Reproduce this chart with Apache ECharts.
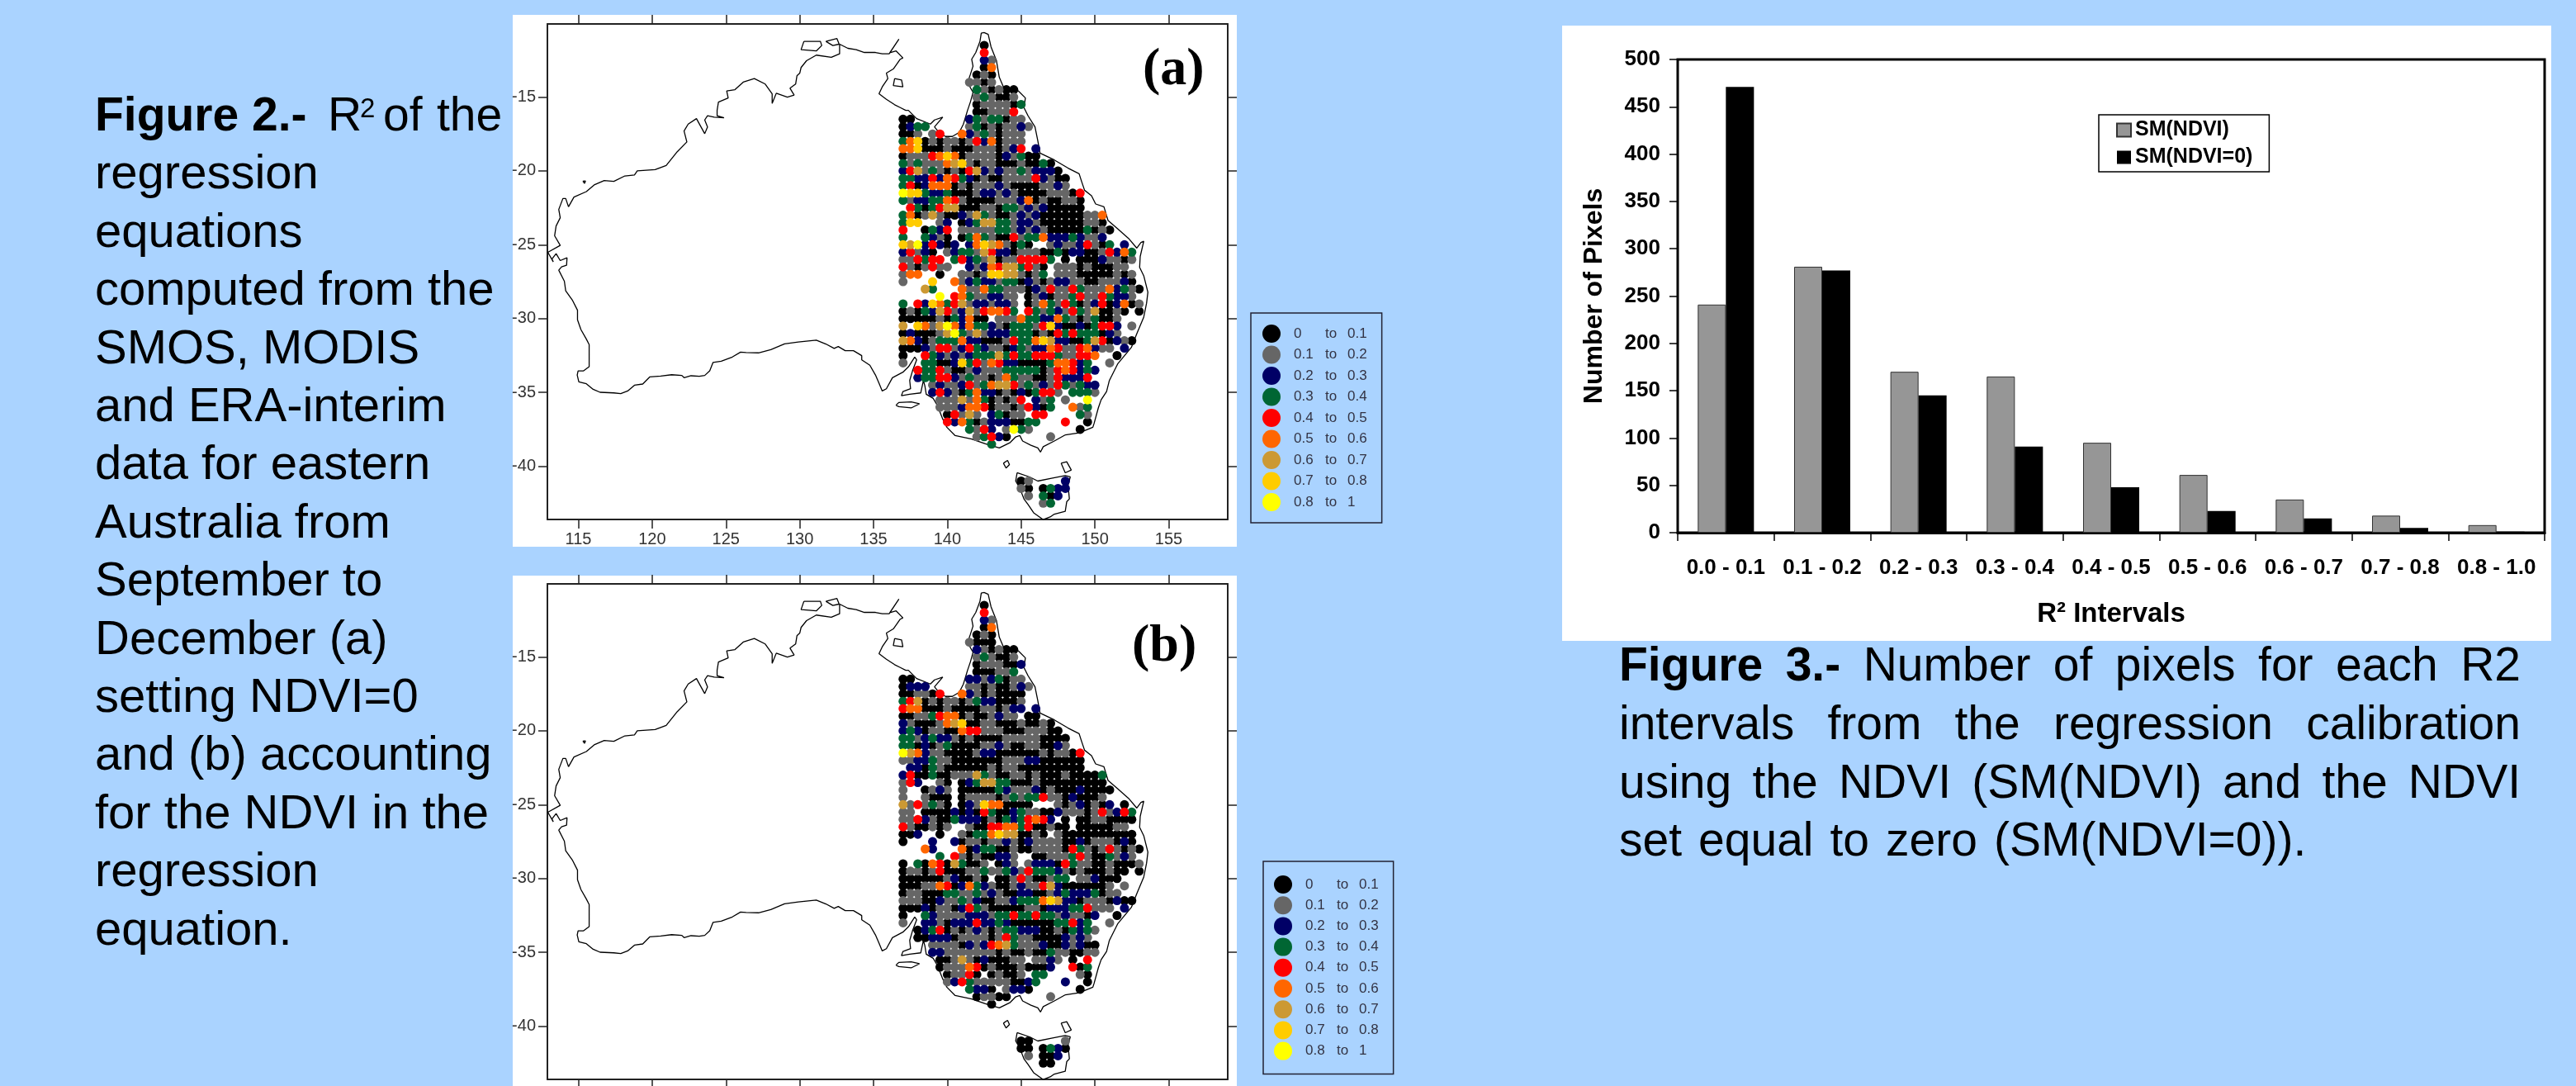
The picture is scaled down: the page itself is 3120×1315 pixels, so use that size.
<!DOCTYPE html>
<html><head><meta charset="utf-8">
<style>html,body{margin:0;padding:0;background:#aad3ff}#c{width:3120px;height:1315px}</style>
<script src="https://cdn.jsdelivr.net/npm/echarts@6/dist/echarts.min.js"></script></head>
<body><div id="c"></div>
<script>
// ---------- bar chart data (Figure 3) ----------
const barCategories = ['0.0 - 0.1','0.1 - 0.2','0.2 - 0.3','0.3 - 0.4','0.4 - 0.5','0.5 - 0.6','0.6 - 0.7','0.7 - 0.8','0.8 - 1.0'];
const smNdvi  = [241,281,170,165,95,61,35,18,8];
const smNdvi0 = [471,277,145,91,48,23,15,5,1];
// ---------- map legend ----------
const classNames  = ['0 to 0.1','0.1 to 0.2','0.2 to 0.3','0.3 to 0.4','0.4 to 0.5','0.5 to 0.6','0.6 to 0.7','0.7 to 0.8','0.8 to 1'];
const classColors = ['#000000','#666666','#000066','#006633','#ff0000','#ff6600','#cc9933','#ffcc00','#ffff00'];
const lonTicks = [115,120,125,130,135,140,145,150,155];
const latTicks = [-40,-35,-30,-25,-20,-15];
// ---------- R2 class per 0.5 degree cell: [lat, first column (0 = 137E), classes ('.' = none)] ----------
const mapARows = [
[-11.5,11,"0"],[-12,11,"4"],[-12.5,11,"21"],[-13,11,"05"],[-13.5,10,"010"],[-14,9,"1101"],
[-14.5,10,"310100"],[-15,10,"131001"],[-15.5,10,"0111103"],[-16,10,"001114"],
[-16.5,0,"00.......23133011"],[-17,0,"0233.....130101121"],[-17.5,0,"001.14..521310111"],
[-18,0,"35701011014250111"],[-18.5,0,"55700010001110124.2"],[-19,0,"0111457501111021300"],
[-19.5,0,"313111567101100010030"],[-20,0,"2461310104621211312220"],[-20.5,0,"33224254320100111142100"],
[-21,0,"34025550101112100001121"],[-21.5,0,"8773223000122121000011104"],[-22,0,"3122335410000111250100110"],
[-22.5,0,".430346600011033121200000"],[-23,0,"3501610021631001212000000115"],[-23.5,0,"377..12.02366331221000000110"],
[-24,0,"4..0324.111113312121000003010"],[-24.5,0,"3..3210.03531004133522232112"],[-25,0,"76824202.257651030..121124103.2"],
[-25.5,0,"24120.12331642201110030220014253"],[-26,0,"114344.34231601144443.0.00021101"],[-26.5,0,"4101411..21254663410.1110100011"],
[-27,0,"155..0..110177661013.11100000101"],[-27.5,0,"1...7..5123221330210122110011120"],[-28,3,"63...5115331110214114311152310"],
[-28.5,5,"8.453112211.012011341143221"],[-29,0,"3.42753461221221.0153143012402501"],[-29.5,0,"0103264126145543.43132143160010.0"],
[-30,0,"000001032500.11153322531013001"],[-30.5,0,"6.7516852533210333147200203442.1"],[-31,0,"020001683161222333010434333021"],
[-31.5,0,"65201333522000143357622003640210"],[-32,0,"00021441243211023122541145211.2"],[-32.5,0,"0..432121233363433444311445..0"],
[-33,0,"1..33002734154220000355423..1"],[-33.5,2,"4334100121113333301454232"],[-34,2,"233442131101531100142224"],
[-34.5,4,"12112413566413121431322"],[-35,4,"242103522010203441.3331"],[-35.5,5,"111615301014.213.1..8"],
[-36,5,"1112554011014203..513"],[-36.5,6,"04161.23011.44....31"],[-37,6,"4253012220033...4..0"],
[-37.5,9,"3142.1831......0"],[-38,10,"13420.....1"],[-38.5,12,"3"],
[-41,16,"01....2"],[-41.5,16,"10.0322"],[-42,17,"1.302"],[-42.5,19,"13"]
];
const mapBRows = [
[-11.5,11,"0"],[-12,11,"4"],[-12.5,11,"21"],[-13,11,"05"],[-13.5,10,"010"],[-14,9,"1000"],
[-14.5,10,"210100"],[-15,10,"131001"],[-15.5,10,"0111002"],[-16,10,"000113"],
[-16.5,0,"00.......22123011"],[-17,0,"0222.....110100121"],[-17.5,0,"001104..521010000"],
[-18,0,"34601011013220001"],[-18.5,0,"45500010000110122.2"],[-19,0,"0011345501001211.00"],
[-19.5,0,"210001567001100010010"],[-20,0,"2320110054411100011100"],[-20.5,0,"33123221010000111110000"],
[-21,0,"33020130000112100110021"],[-21.5,0,"8652110000122000000101104"],[-22,0,"1122311000000011122000000"],
[-22.5,0,".220310000001011000000000"],[-23,0,"2400300111631001101000100003"],[-23.5,0,"142..10.02366330001000000000"],
[-24,0,"1..0121.000003211120100020000"],[-24.5,0,"1..1000.01111013133411020001"],[-25,0,"6141310.0217550000...10120102.0"],
[-25.5,0,"11.00002020430023110021110141243"],[-26,0,"114210032220103234542.0.00110000"],[-26.5,0,"4100101..10044553400100.0000011"],
[-27,0,"002..0..103357660010.10000000000"],[-27.5,0,"0...2..2011011210211110020111020"],[-28,3,"52...5023300100111104310141010"],
[-28.5,5,"3.410100221..00111341003121"],[-29,0,"0.3054063001.021.1222043110010001"],[-29.5,0,"0110140001131132143332101000100.0"],
[-30,0,"000000120010.0014100133.112000"],[-30.5,0,"00011540253210012114620000001.1"],[-31,0,"011000331131210022001232223011"],
[-31.5,0,"11100211312001123335762201110200"],[-32,0,"00020110243100000110222334111.2"],[-32.5,0,"0..321111222133433433121102..0"],
[-33,0,"1..22102224223200000033423..1"],[-33.5,2,"0234010121013322200103231"],[-34,2,"002220111101431100002121"],
[-34.5,4,"11110212456311120021200"],[-35,4,"22111111101001003110011"],[-35.5,5,"001610200011.1121.0.4"],
[-36,5,"0111540100010002..403"],[-36.5,6,"01140.01001.33....10"],[-37,6,"1243111110023...2..0"],
[-37.5,9,"3220.1220......0"],[-38,10,"01100.....1"],[-38.5,12,"0"],
[-41,16,"00....1"],[-41.5,16,"00.0320"],[-42,17,"1.002"],[-42.5,19,"00"]
];
// ---------- coastlines, [lon, lat] ----------
const coastMainland = [
[142.49,-10.63],[142.77,-10.76],[142.96,-11.6],[143.33,-12.54],[143.52,-13.66],[143.8,-14.31],[144.82,-14.59],[145.29,-15.06],[145.19,-15.71],[145.47,-16.27],[145.94,-17.02],[146.13,-17.95],[146.28,-18.79],[147.25,-19.26],[148.18,-19.81],[148.93,-20.19],[149.11,-20.75],[149.3,-21.31],[149.77,-21.68],[150.05,-22.24],[150.61,-22.43],[150.89,-23.36],[151.54,-23.92],[152.28,-24.57],[152.84,-25.23],[153.12,-24.85],[153.31,-24.76],[153.07,-25.79],[153.03,-26.53],[153.31,-27.1],[153.59,-28.22],[153.5,-28.96],[153.31,-29.9],[152.84,-31.02],[152.47,-31.95],[151.54,-33.07],[150.98,-34.19],[150.79,-34.94],[150.42,-35.5],[150.23,-36.05],[149.95,-37.08],[149.86,-37.36],[148.93,-37.73],[148,-37.87],[147.25,-38.29],[146.5,-38.67],[146.31,-39.04],[146.13,-38.76],[145.66,-38.57],[145.1,-38.29],[144.91,-37.92],[144.63,-38.01],[144.26,-38.39],[143.52,-38.76],[142.58,-38.48],[141.65,-38.15],[140.53,-37.92],[139.97,-37.36],[139.69,-36.8],[139.32,-35.87],[139.04,-35.4],[138.57,-35.12],[138.48,-34.56],[138.38,-34.19],[138.2,-35.03],[137.45,-35.12],[136.89,-35.22],[136.99,-34.94],[137.51,-34.75],[137.45,-34.19],[137.64,-33.54],[137.92,-32.79],[137.79,-32.6],
[137.37,-33.26],[136.99,-33.63],[136.28,-34],[135.87,-34.75],[135.59,-34.9],[135.37,-34.37],[135.13,-33.82],[134.75,-33.16],[134.2,-32.79],[134.2,-32.51],[133.64,-32.17],[133.08,-32.17],[132.61,-31.89],[132.33,-32.02],[131.77,-31.72],[131.12,-31.46],[129.9,-31.59],[128.97,-31.71],[128.04,-32.1],[127.2,-32.32],[126.36,-32.3],[125.99,-32.27],[125.43,-32.6],[124.68,-32.88],[124.12,-32.97],[123.9,-33.54],[123.56,-33.85],[123.19,-33.91],[122.63,-33.87],[122.16,-34],[122.01,-33.85],[121.32,-33.8],[120.58,-33.89],[119.83,-33.95],[119.36,-34.43],[118.8,-34.51],[118.34,-34.9],[117.87,-35.08],[117.4,-35.03],[116.47,-34.99],[116,-34.79],[115.54,-34.41],[115.03,-34.28],[114.92,-33.82],[114.98,-33.54],[115.35,-33.54],[115.73,-33.26],[115.73,-31.76],[115.54,-31.39],[115.17,-30.74],[114.94,-30.08],[114.94,-29.43],[114.61,-28.78],[114.14,-28.12],[114.05,-27.47],[113.67,-26.72],[113.86,-26.5],[114.2,-26.39],
[114.23,-25.88],[113.77,-26.07],[113.49,-25.6],[113.21,-25.97],[113.3,-26.16],[112.93,-25.51],[113.77,-25.04],[113.39,-24.39],[113.49,-23.73],[113.77,-23.17],[113.67,-22.61],[113.95,-21.87],[114.14,-21.87],[114.33,-22.43],[114.7,-21.77],[115.54,-21.4],[116.1,-20.93],[116.75,-20.65],[117.4,-20.71],[118.15,-20.34],[118.8,-20.28],[118.99,-20],[120.2,-19.91],[120.95,-19.63],[121.7,-18.7],[122.35,-18.04],[122.16,-17.3],[122.44,-16.83],[123,-16.46],[123.56,-17.48],[123.75,-17.02],[123.56,-16.55],[123.75,-16.27],[124.21,-16.36],[124.87,-16.4],[124.4,-16.27],[124.4,-15.9],[124.49,-15.34],[125.15,-15.06],[125.05,-14.59],[125.61,-14.5],[126.17,-13.99],[126.92,-13.75],[127.66,-14.12],[128.13,-14.78],[128.13,-15.43],[128.41,-14.74],[129.16,-15],[129.62,-14.87],[129.34,-14.4],[129.72,-14.12],[129.81,-13.56],[130,-13.38],[130.09,-13],[130.46,-12.54],[131.12,-12.16],[132.14,-12.31],[132.7,-12.07],[132.7,-11.42],[133.26,-11.7],[133.82,-11.79],[134.38,-11.98],[135.13,-11.98],[135.59,-12.07],[136.06,-12.07],[136.72,-11.08],[136.1,-12.0],[136.53,-11.88],[136.99,-12.35],[136.81,-12.44],[136.34,-13.1],[135.87,-13.38],[135.97,-13.75],[135.59,-14.31],[135.37,-14.78],[135.87,-15.15],[136.43,-15.52],[136.81,-15.71],[137.18,-15.9],[137.36,-15.9],[137.92,-16.46],[138.85,-16.83],[139.13,-16.55],[139.69,-16.36],[139.13,-17.02],[139.5,-17.48],[139.88,-17.67],[140.34,-17.67],[140.81,-17.39],[141.09,-16.83],[141.37,-15.9],[141.56,-15.34],[141.74,-14.68],[141.37,-14.03],[141.56,-13.47],[141.74,-12.91],[141.65,-12.44],[141.93,-11.98],[142.21,-11.23],[142.3,-10.67]
];
const coastMelville = [[130.28,-11.23],[131.4,-11.23],[131.49,-11.51],[131.12,-11.88],[130.09,-11.79]];
const coastBathurst = [[131.77,-11.23],[132.52,-11.04],[132.67,-11.42],[132.24,-11.51]];
const coastGroote   = [[136.43,-13.75],[136.9,-13.84],[136.99,-14.31],[136.34,-14.22]];
const coastBarrow   = [[115.3,-20.7],[115.48,-20.68],[115.42,-20.85]];
const coastKangaroo = [[136.52,-35.87],[136.71,-35.68],[137.55,-35.64],[138.11,-35.77],[137.55,-36.05],[136.71,-35.96]];
const coastKing     = [[143.8,-39.79],[144.08,-39.6],[144.21,-39.88],[143.98,-40.12]];
const coastFlinders = [[147.71,-39.79],[148.09,-39.69],[148.4,-40.25],[147.99,-40.44]];
const coastTasmania = [[144.73,-40.44],[144.63,-41],[144.91,-41.47],[145.19,-42.21],[145.47,-42.59],[145.85,-43.15],[146.5,-43.61],[146.97,-43.43],[147.25,-43.24],[147.99,-43.05],[148.09,-42.4],[148.27,-42.21],[148.18,-41.28],[148.33,-40.72],[147.99,-40.63],[147.06,-40.81],[146.13,-41],[145.57,-40.72]];
const coastParts = [coastMainland,coastMelville,coastBathurst,coastGroote,coastBarrow,coastKangaroo,coastKing,coastFlinders,coastTasmania];
// ---------- captions ----------
const fig2Lines = ['regression','equations','computed from the','SMOS, MODIS','and ERA-interim','data for eastern','Australia from','September to','December (a)','setting NDVI=0','and (b) accounting','for the NDVI in the','regression','equation.'];
const fig3Lines = ['Figure 3.- Number of pixels for each R2','intervals from the regression calibration','using the NDVI (SM(NDVI) and the NDVI','set equal to zero (SM(NDVI=0)).'];

const SANS='"Liberation Sans",Arial,sans-serif';
const dom=document.getElementById('c');
const chart=echarts.init(dom,null,{renderer:'canvas',width:3120,height:1315});

function decode(rows){
  const out=classNames.map(()=>[]);
  rows.forEach(([lat,start,s])=>{
    for(let i=0;i<s.length;i++){ if(s[i]!=='.') out[+s[i]].push([137+(start+i)*0.5,lat]); }
  });
  return out;
}
function txt(str,x,base,weight,size,fam,fill){
  return {type:'text',z:50,silent:true,x:x,y:base-0.346*size,style:{text:str,fill:fill||'#000',
    font:(weight||'normal')+' '+size+'px '+(fam||SANS),textAlign:'left',textVerticalAlign:'middle',verticalAlign:'middle'}};
}
const graphics=[
  {type:'rect',z:-10,silent:true,shape:{x:621,y:18,width:877,height:644},style:{fill:'#fff'}},
  {type:'rect',z:-10,silent:true,shape:{x:621,y:697,width:877,height:618},style:{fill:'#fff'}},
  {type:'rect',z:-10,silent:true,shape:{x:1892,y:31,width:1198,height:745},style:{fill:'#fff'}},
  txt('(a)',1384,108,'bold',64,'"Liberation Serif",serif'),
  txt('(b)',1371,806,'bold',64,'"Liberation Serif",serif'),
  txt('Figure 2.-',115,162,'bold',57),
  txt('R',397,162,'normal',57),
  txt('2',436,144,'normal',33),
  txt('of',464,162,'normal',57),
  txt('the',529,162,'normal',57)
];
fig2Lines.forEach((l,i)=>graphics.push(txt(l,115,162+(i+1)*70.4,'normal',58)));
// justified caption, Figure 3
const mctx=document.createElement('canvas').getContext('2d');
const F3=57, F3L=1961, F3R=3053, F3B=[828,899,970,1040];
fig3Lines.forEach((line,li)=>{
  const words=line.split(' ');
  const fonts=words.map((w,i)=>(li===0&&i<2)?'bold':'normal');
  const ws=words.map((w,i)=>{mctx.font=fonts[i]+' '+F3+'px "Liberation Sans"';return mctx.measureText(w).width;});
  const tot=ws.reduce((a,b)=>a+b,0);
  const gap=li<3?(F3R-F3L-tot)/(words.length-1):20;
  let x=F3L;
  words.forEach((w,i)=>{graphics.push(txt(w,x,F3B[li],fonts[i],F3));x+=ws[i]+gap;});
});

const grids=[
 {left:663,top:29,width:824,height:600,show:false},
 {left:663,top:707,width:824,height:600,show:false},
 {left:2032,top:72,width:1050,height:573,show:true,borderColor:'#000',borderWidth:3,backgroundColor:'transparent'}
];
const LONR=[112.9,159], LATR=[-43.6,-10.05];
const axC='#222';
function lonAxis(g,pos,lab){return {type:'value',gridIndex:g,position:pos,min:LONR[0],max:LONR[1],scale:true,splitLine:{show:false},
  axisLine:{show:true,onZero:false,lineStyle:{color:axC,width:2}},axisTick:{show:true,length:11,customValues:lonTicks,lineStyle:{color:axC,width:1.5}},
  axisLabel:{show:lab,margin:14,customValues:lonTicks,color:'#333',fontFamily:SANS,fontSize:20,showMinLabel:true,showMaxLabel:true}};}
function latAxis(g,pos,lab){return {type:'value',gridIndex:g,position:pos,min:LATR[0],max:LATR[1],scale:true,splitLine:{show:false},
  axisLine:{show:true,onZero:false,lineStyle:{color:axC,width:2}},axisTick:{show:true,length:11,customValues:latTicks,lineStyle:{color:axC,width:1.5}},
  axisLabel:{show:lab,margin:14,customValues:latTicks,color:'#333',fontFamily:SANS,fontSize:20}};}
const xAxes=[lonAxis(0,'bottom',true),lonAxis(0,'top',false),lonAxis(1,'bottom',false),lonAxis(1,'top',false),
 {type:'category',gridIndex:2,data:barCategories,position:'bottom',axisLine:{onZero:false,lineStyle:{color:'#000',width:3}},
  axisTick:{show:true,length:10,alignWithLabel:false,lineStyle:{color:'#000',width:1.5}},
  axisLabel:{margin:30,color:'#000',fontFamily:SANS,fontWeight:'bold',fontSize:26,interval:0},
  name:'R² Intervals',nameLocation:'middle',nameGap:82,nameTextStyle:{fontFamily:SANS,fontWeight:'bold',fontSize:33,color:'#000'}}];
const yAxes=[latAxis(0,'left',true),latAxis(0,'right',false),latAxis(1,'left',true),latAxis(1,'right',false),
 {type:'value',gridIndex:2,min:0,max:500,interval:50,position:'left',splitLine:{show:false},
  axisLine:{show:true,lineStyle:{color:'#000',width:1.5}},axisTick:{show:true,length:10,lineStyle:{color:'#000',width:1.5}},
  axisLabel:{margin:21,color:'#000',fontFamily:SANS,fontWeight:'bold',fontSize:26},
  name:'Number of Pixels',nameLocation:'middle',nameRotate:90,nameGap:85,nameTextStyle:{fontFamily:SANS,fontWeight:'bold',fontSize:32,color:'#000'}}];

const series=[];
[[mapARows,0,0],[mapBRows,2,2]].forEach(([rows,xi,yi])=>{
  coastParts.forEach((p)=>{
    series.push({type:'line',xAxisIndex:xi,yAxisIndex:yi,data:p.concat([p[0]]),showSymbol:false,symbol:'none',silent:true,z:1,
      lineStyle:{color:'#000',width:1.3},animation:false,clip:true});
  });
  decode(rows).forEach((pts,c)=>{
    series.push({type:'scatter',name:classNames[c],xAxisIndex:xi,yAxisIndex:yi,data:pts,symbol:'circle',symbolSize:11,z:3,
      itemStyle:{color:classColors[c],opacity:1},animation:false,silent:true});
  });
});
series.push({type:'bar',name:'SM(NDVI)',xAxisIndex:4,yAxisIndex:4,data:smNdvi,barWidth:34,barGap:'0%',z:3,
  itemStyle:{color:'#969696',borderColor:'#333',borderWidth:1},animation:false});
series.push({type:'bar',name:'SM(NDVI=0)',xAxisIndex:4,yAxisIndex:4,data:smNdvi0,barWidth:34,barGap:'0%',z:3,
  itemStyle:{color:'#000'},animation:false});

function mapLegend(left,top,padL,padT,gap){
  return {show:true,data:classNames,orient:'vertical',left:left,top:top,selectedMode:false,icon:'circle',
    itemWidth:22,itemHeight:22,itemGap:gap,padding:[padT,18,padT,padL],borderColor:'#223',borderWidth:1.5,backgroundColor:'transparent',
    itemStyle:{opacity:1},
    formatter:n=>{const p=n.split(' to ');return '{a|'+p[0]+'}{b|to}{c|'+p[1]+'}';},
    textStyle:{rich:{
      a:{width:38,padding:[0,0,0,11],fontFamily:SANS,fontSize:17,color:'#334'},
      b:{width:27,fontFamily:SANS,fontSize:17,color:'#334'},
      c:{width:28,fontFamily:SANS,fontSize:17,color:'#334'}}}};
}
chart.setOption({
  backgroundColor:'#aad3ff',animation:false,
  grid:grids,xAxis:xAxes,yAxis:yAxes,series:series,graphic:{elements:graphics},
  legend:[mapLegend(1515,379,14,14,3.5),mapLegend(1530,1043,13,17,3.2),
   {show:true,data:['SM(NDVI)','SM(NDVI=0)'],orient:'vertical',left:2542,top:139,selectedMode:false,itemWidth:17,itemHeight:16,itemGap:8,
    padding:[6,20,5,21],borderColor:'#000',borderWidth:1.5,backgroundColor:'#fff',icon:'rect',
    textStyle:{fontFamily:SANS,fontWeight:'bold',fontSize:25,color:'#000'}}]
});
</script></body></html>
